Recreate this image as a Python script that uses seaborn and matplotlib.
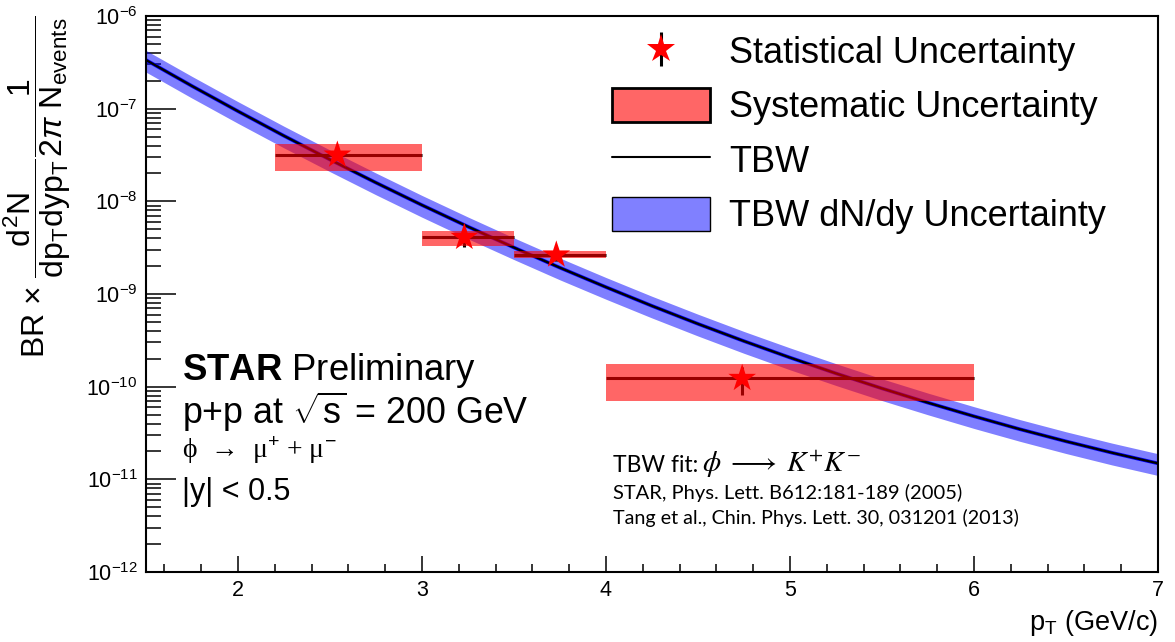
import numpy as np
import matplotlib
matplotlib.use("Agg")
import matplotlib.pyplot as plt
import seaborn as sns
from matplotlib.lines import Line2D
from matplotlib.patches import Patch, Rectangle
from matplotlib.ticker import LogLocator, MultipleLocator, NullFormatter

# ---------------- data ----------------
pt_center = [2.54, 3.23, 3.73, 4.74]
yield_val = [3.16e-8, 4.09e-9, 2.64e-9, 1.23e-10]
bin_lo = [2.2, 3.0, 3.5, 4.0]
bin_hi = [3.0, 3.5, 4.0, 6.0]
stat_err = [4.0e-9, 0.84e-9, 3.5e-10, 4.1e-11]
sys_lo = [2.13e-8, 3.33e-9, 2.43e-9, 7.0e-11]
sys_hi = [4.16e-8, 4.8e-9, 2.9e-9, 1.76e-10]

tbw_pt = [1.45, 1.5, 1.75, 2.0, 2.25, 2.5, 2.75, 3.0, 3.25, 3.5, 3.75, 4.0, 4.25,
          4.5, 4.75, 5.0, 5.25, 5.5, 5.75, 6.0, 6.25, 6.5, 6.75, 7.0]
tbw_val = [3.82e-7, 3.35e-7, 1.755e-7, 9.38e-8, 5.09e-8, 2.82e-8, 1.589e-8, 9.11e-9,
           5.33e-9, 3.17e-9, 1.92e-9, 1.186e-9, 7.44e-10, 4.76e-10, 3.10e-10,
           2.06e-10, 1.39e-10, 9.57e-11, 6.71e-11, 4.79e-11, 3.47e-11, 2.57e-11,
           1.936e-11, 1.486e-11]
tbw_hi = [4.85e-7, 4.25e-7, 2.23e-7, 1.19e-7, 6.46e-8, 3.58e-8, 2.02e-8, 1.157e-8,
          6.77e-9, 4.03e-9, 2.44e-9, 1.506e-9, 9.45e-10, 6.05e-10, 3.94e-10,
          2.62e-10, 1.77e-10, 1.215e-10, 8.52e-11, 6.08e-11, 4.41e-11, 3.26e-11,
          2.46e-11, 1.89e-11]
tbw_lo = [2.83e-7, 2.48e-7, 1.30e-7, 6.94e-8, 3.77e-8, 2.09e-8, 1.176e-8, 6.74e-9,
          3.94e-9, 2.35e-9, 1.42e-9, 8.78e-10, 5.51e-10, 3.52e-10, 2.29e-10,
          1.52e-10, 1.03e-10, 7.08e-11, 4.97e-11, 3.54e-11, 2.57e-11, 1.90e-11,
          1.43e-11, 1.10e-11]

legend_labels = ["Statistical Uncertainty", "Systematic Uncertainty", "TBW",
                 "TBW dN/dy Uncertainty"]

# ---------------- style ----------------
sns.set_theme(style="ticks")
plt.rcParams["font.family"] = ["Liberation Sans", "DejaVu Sans"]
plt.rcParams["mathtext.fontset"] = "custom"
plt.rcParams["mathtext.rm"] = "Liberation Sans"
plt.rcParams["mathtext.it"] = "Liberation Sans:italic"
plt.rcParams["mathtext.bf"] = "Liberation Sans:bold"
for k in ["text.color", "axes.labelcolor", "xtick.color", "ytick.color",
          "axes.edgecolor"]:
    plt.rcParams[k] = "black"

W, H = 1175, 642
fig = plt.figure(figsize=(W / 100, H / 100), dpi=100)
fig.patch.set_facecolor("white")
L, R, T, B = 146, 1158, 16, 572
ax = fig.add_axes([L / W, 1 - B / H, (R - L) / W, (B - T) / H])
ax.set_facecolor("white")

def fpx(x, y):
    return x / W, 1 - y / H

# TBW band and curve
ax.fill_between(tbw_pt, tbw_lo, tbw_hi, color=(0, 0, 1), alpha=0.5, lw=0, zorder=1)
ax.plot(tbw_pt, tbw_val, color="blue", lw=2.6, zorder=1.5)
sns.lineplot(x=tbw_pt, y=tbw_val, ax=ax, color="black", lw=1.6, zorder=2,
             sort=False, estimator=None)

# statistical error bars (black, under the boxes)
xerr = [[c - lo for c, lo in zip(pt_center, bin_lo)],
        [hi - c for c, hi in zip(pt_center, bin_hi)]]
ax.errorbar(pt_center, yield_val, xerr=xerr, yerr=stat_err, fmt="none",
            ecolor="black", elinewidth=2.2, capsize=0, zorder=3)

# systematic boxes
for lo, hi, ylo, yhi in zip(bin_lo, bin_hi, sys_lo, sys_hi):
    ax.add_patch(Rectangle((lo, ylo), hi - lo, yhi - ylo, facecolor=(1, 0, 0),
                           alpha=0.6, lw=0, zorder=4))

# stars
sns.scatterplot(x=pt_center, y=yield_val, ax=ax, marker="*", s=440,
                color=(1, 0, 0), edgecolor="none", linewidth=0, zorder=5)

ax.set_yscale("log")
ax.set_xlim(1.5, 7)
ax.set_ylim(1e-12, 1e-6)

ax.xaxis.set_major_locator(MultipleLocator(1))
ax.xaxis.set_minor_locator(MultipleLocator(0.2))
ax.yaxis.set_major_locator(LogLocator(base=10, numticks=10))
ax.yaxis.set_minor_locator(LogLocator(base=10, subs=np.arange(2, 10), numticks=20))
ax.yaxis.set_minor_formatter(NullFormatter())

ax.tick_params(axis="both", which="both", direction="in", top=False, right=False,
               colors="black", labelcolor="black")
ax.tick_params(axis="x", which="major", length=11.5, width=1.1, labelsize=15.5, pad=6)
ax.tick_params(axis="x", which="minor", length=5.8, width=1.1)
ax.tick_params(axis="y", which="major", length=21.6, width=1.1, labelsize=15.5, pad=6)
ax.tick_params(axis="y", which="minor", length=10.8, width=1.1)
for sp in ax.spines.values():
    sp.set_visible(True)
    sp.set_color("black")
    sp.set_linewidth(1.5)

ax.set_xlabel(r"p$_{\mathrm{T}}$ (GeV/c)", loc="right", fontsize=19.5, labelpad=5)
ax.set_ylabel(r"BR $\times$ $\dfrac{\mathrm{d^{2}N}}{\mathrm{dp_{T}dyp_{T}}}$"
              r"$\dfrac{1}{2\pi\ \mathrm{N_{events}}}$",
              loc="top", fontsize=23, labelpad=10)

# legend
h_stat = (Line2D([0], [0], color="black", marker="|", ms=24, mew=2.2, ls="none"),
          Line2D([0], [0], color=(1, 0, 0), marker="*", ms=21, mew=0, ls="none"))
h_sys = Patch(facecolor=(1, 0.4, 0.4), edgecolor="black", lw=2)
h_tbw = Line2D([0], [0], color="black", lw=1.5)
h_band = Patch(facecolor=(0.5, 0.5, 1), edgecolor="black", lw=1)
ax.legend([h_stat, h_sys, h_tbw, h_band], legend_labels, loc="upper left",
          bbox_to_anchor=fpx(612, 34), bbox_transform=fig.transFigure,
          frameon=False, fontsize=26, handlelength=2.7, handleheight=1.05,
          handletextpad=0.55, labelspacing=0.48, borderpad=0, borderaxespad=0)

# annotations
fig.text(*fpx(182, 380), r"$\mathbf{STAR}$ Preliminary", fontsize=26.3, va="baseline")
fig.text(*fpx(182, 424), r"p+p at $\sqrt{\mathrm{s}}$ = 200 GeV", fontsize=25.8,
         va="baseline")
fig.text(*fpx(182, 458), "ϕ  →  μ$^{+}$ + μ$^{-}$", fontsize=20, va="baseline",
         family=["Liberation Serif", "DejaVu Serif"])
fig.text(*fpx(182, 500), "|y| < 0.5", fontsize=22, va="baseline")
fig.text(*fpx(613, 472), "TBW fit:", fontsize=16.5, va="baseline",
         family=["Lato", "DejaVu Sans"])
fig.text(*fpx(702, 472), r"$\phi\;\longrightarrow\;K^{+}K^{-}$", fontsize=21,
         va="baseline", math_fontfamily="stix")
fig.text(*fpx(613, 499), "STAR, Phys. Lett. B612:181-189 (2005)", fontsize=14.5,
         va="baseline", family=["Lato", "DejaVu Sans"])
fig.text(*fpx(613, 524), "Tang et al., Chin. Phys. Lett. 30, 031201 (2013)",
         fontsize=14.2, va="baseline", family=["Lato", "DejaVu Sans"])

fig.savefig("out.png", dpi=100, facecolor="white")
